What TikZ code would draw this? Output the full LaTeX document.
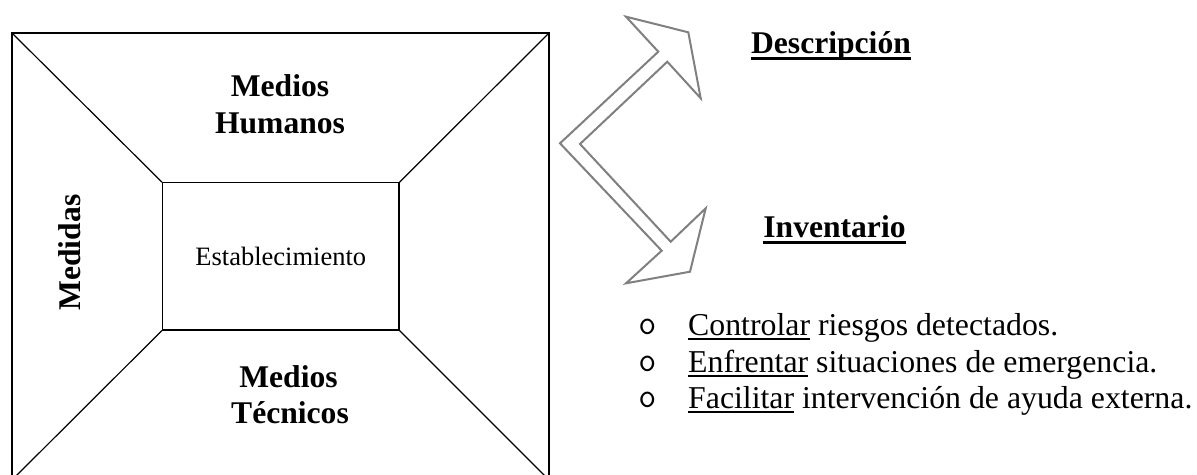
\documentclass[tikz,border=0pt]{standalone}
\usepackage{fontspec}
\setmainfont{Liberation Serif}
\newcommand\myul[3]{\setbox0\hbox{#1}\rlap{\rule[-#2]{\wd0}{#3}}\box0{}}
\begin{document}
\begin{tikzpicture}[x=1pt,y=-1pt,
  boxline/.style={draw=black, line width=1.2pt},
  hdr/.style={font=\bfseries\fontsize{31.6}{38}\selectfont, inner sep=0pt, anchor=base},
  itemtxt/.style={font=\fontsize{31.8}{38}\selectfont, inner sep=0pt, anchor=base west},
  bul/.style={font=\ttfamily\fontsize{35}{40}\selectfont, inner sep=0pt, anchor=center},
  arr/.style={draw=black!50, line width=2pt, line join=miter, fill=white}]
\clip (0,0) rectangle (1197,474);
\fill[white] (0,0) rectangle (1197,474);
% outer box
\coordinate (o1) at (12,33);
\coordinate (o2) at (549,33);
\coordinate (o3) at (549,480);
\coordinate (o4) at (12,480);
\draw[boxline] (o1) -- (o2) -- (o3) -- (o4) -- cycle;
% inner box
\node[boxline, minimum width=236.5pt, minimum height=147.3pt, inner sep=0pt,
      font=\fontsize{26.5}{30}\selectfont] (est) at (280.75,256.35) {Establecimiento};
\draw[boxline] (o1) -- (est.north west);
\draw[boxline] (o2) -- (est.north east);
\draw[boxline] (o3) -- (est.south east);
\draw[boxline] (o4) -- (est.south west);
% labels in the frame
\node[hdr] (hum1) at (280,96) {Medios};
\node[hdr] (hum2) at (280,133) {Humanos};
\node[hdr] (tec1) at (288.5,387) {Medios};
\node[hdr] (tec2) at (290,423) {Técnicos};
\node[hdr, rotate=90] (med) at (80,252.5) {Medidas};
% double arrow
\draw[arr] (560,143.3) -- (658.3,51.7) -- (626,16.7) -- (688.3,32.3) -- (700.7,98.3)
  -- (667.3,61.7) -- (580,144) -- (670.7,241.7) -- (705.7,208.3) -- (690,271.7)
  -- (626,283.3) -- (661.7,250.7) -- cycle;
% right texts
\node[hdr] (desc) at (831,53) {\myul{Descripción}{7pt}{2.7pt}};
\node[hdr] (inv) at (834.5,237) {\myul{Inventario}{7pt}{2.7pt}};
\node[bul] (b1) at (647.5,327) {o};
\node[bul] (b2) at (647.5,364) {o};
\node[bul] (b3) at (647.5,400) {o};
\node[itemtxt] (l1) at (688,335) {\myul{Controlar}{5pt}{2pt} riesgos detectados.};
\node[itemtxt] (l2) at (688,372) {\myul{Enfrentar}{5pt}{2pt} situaciones de emergencia.};
\node[itemtxt] (l3) at (688,408) {\myul{Facilitar}{5pt}{2pt} intervención de ayuda externa.};
\end{tikzpicture}
\end{document}
